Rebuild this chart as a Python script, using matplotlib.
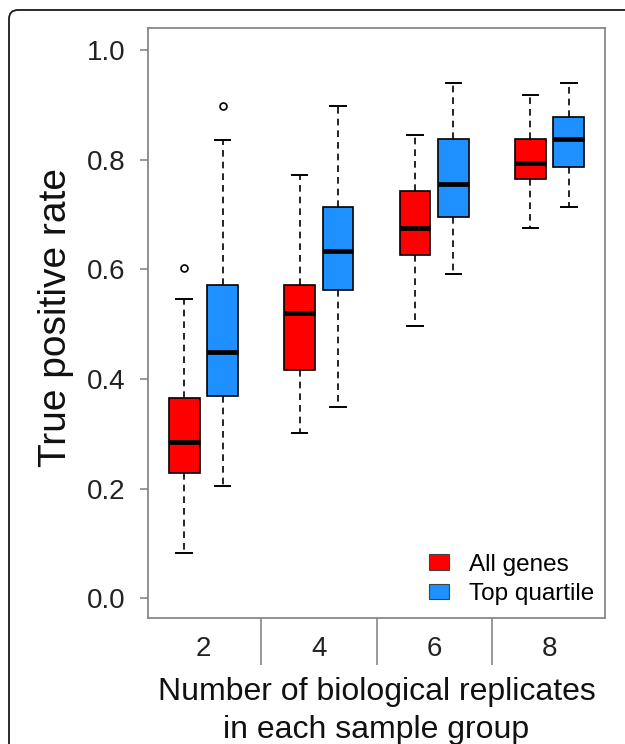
import matplotlib
matplotlib.use("Agg")
import matplotlib.pyplot as plt
from matplotlib.patches import FancyBboxPatch, Patch
from matplotlib.transforms import IdentityTransform

plt.rcParams['font.family'] = ['Liberation Sans', 'DejaVu Sans']

# box positions (R style: two boxes per group, gap between groups)
positions = [1, 2, 4, 5, 7, 8, 10, 11]
series = ['All genes', 'Top quartile', 'All genes', 'Top quartile',
          'All genes', 'Top quartile', 'All genes', 'Top quartile']
group_labels = ['2', '4', '6', '8']

whislo = [0.083, 0.205, 0.302, 0.349, 0.497, 0.592, 0.675, 0.714]
q1 = [0.228, 0.369, 0.416, 0.562, 0.626, 0.695, 0.765, 0.786]
med = [0.285, 0.449, 0.521, 0.634, 0.675, 0.756, 0.793, 0.837]
q3 = [0.366, 0.571, 0.572, 0.714, 0.743, 0.837, 0.837, 0.877]
whishi = [0.546, 0.836, 0.772, 0.897, 0.845, 0.939, 0.918, 0.939]
fliers = [[0.603], [0.898], [], [], [], [], [], []]

colors = {'All genes': '#FF0000', 'Top quartile': '#1E90FF'}

stats = []
for i in range(len(positions)):
    stats.append(dict(whislo=whislo[i], q1=q1[i], med=med[i], q3=q3[i],
                      whishi=whishi[i], fliers=fliers[i]))

fig = plt.figure(figsize=(6.25, 7.44), dpi=100)
ax = fig.add_axes([0.2368, 0.1694, 0.7312, 0.793])

bp = ax.bxp(stats, positions=positions, widths=0.8, capwidths=0.4,
            patch_artist=True, showfliers=True,
            boxprops=dict(edgecolor='black', linewidth=1.2),
            whiskerprops=dict(color='black', linestyle=(0, (4, 3)), linewidth=1.2),
            capprops=dict(color='black', linewidth=1.4),
            medianprops=dict(color='black', linewidth=3.4, solid_capstyle='butt'),
            flierprops=dict(marker='o', markersize=5, markerfacecolor='none',
                            markeredgecolor='black', markeredgewidth=1.2))
for box, s in zip(bp['boxes'], series):
    box.set_facecolor(colors[s])

ax.set_xlim(0.06, 11.94)
ax.set_ylim(-0.036, 1.04)

ax.set_yticks([0.0, 0.2, 0.4, 0.6, 0.8, 1.0])
ax.set_yticklabels(['0.0', '0.2', '0.4', '0.6', '0.8', '1.0'])
ax.tick_params(axis='y', length=6, width=1.2, color='#888888', pad=10,
               labelsize=20, labelcolor='#222222')

ax.set_xticks([1.5, 4.5, 7.5, 10.5])
ax.set_xticklabels(group_labels)
ax.tick_params(axis='x', which='major', length=0, pad=13, labelsize=20,
               labelcolor='#222222')
ax.set_xticks([3, 6, 9], minor=True)
ax.tick_params(axis='x', which='minor', length=34, width=1.2, color='#888888')

for sp in ax.spines.values():
    sp.set_color('#888888')
    sp.set_linewidth(1.3)

ax.set_ylabel('True positive rate', fontsize=28, color='#111111')
ax.yaxis.set_label_coords(-0.162, 0.51)
ax.set_xlabel('Number of biological replicates\nin each sample group',
              fontsize=23, color='#111111', linespacing=1.35)
ax.xaxis.set_label_coords(0.5, -0.1)

handles = [Patch(facecolor=colors['All genes'], edgecolor='#444444', linewidth=0.8),
           Patch(facecolor=colors['Top quartile'], edgecolor='#444444', linewidth=0.8)]
ax.legend(handles, ['All genes', 'Top quartile'], loc='lower right',
          bbox_to_anchor=(1.02, -0.011), frameon=False, fontsize=17.5,
          handlelength=0.8, handleheight=0.62, handletextpad=0.85,
          labelspacing=0.3, borderpad=0.3)

# rounded outer frame (only top-left corner is visible)
frame = FancyBboxPatch((9, -60), 700, 744 - 10 + 60,
                       boxstyle='round,pad=0,rounding_size=9',
                       transform=IdentityTransform(), facecolor='none',
                       edgecolor='#1a1a1a', linewidth=1.3, clip_on=False)
fig.add_artist(frame)

fig.savefig('out.png', dpi=100)
